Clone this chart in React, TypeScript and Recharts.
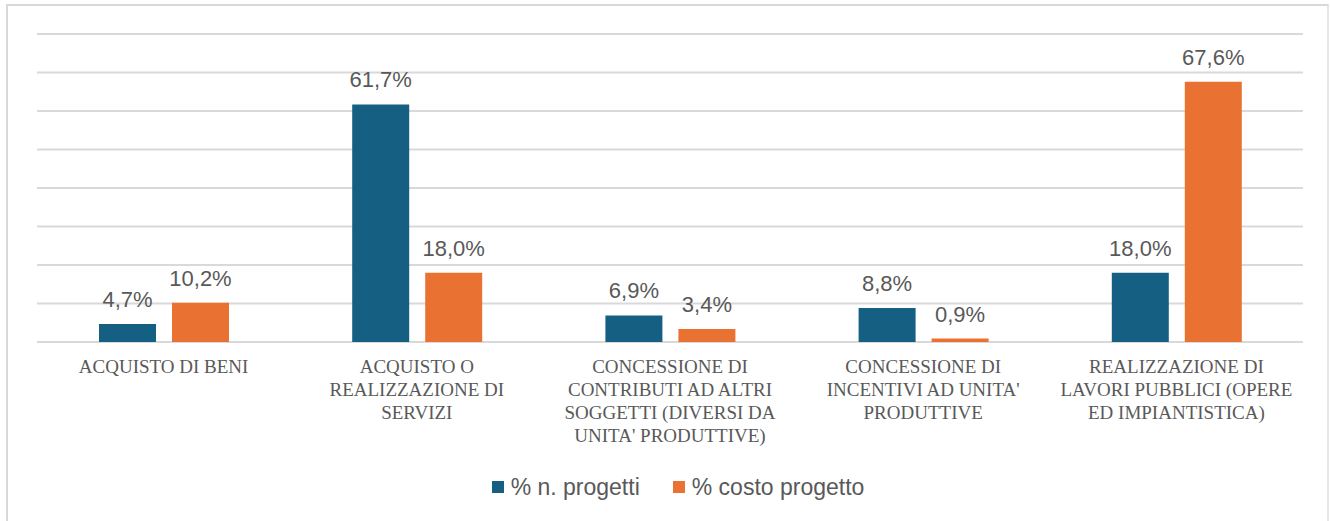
import React from 'react';
import { BarChart, Bar, XAxis, YAxis, CartesianGrid, LabelList, Legend } from 'recharts';

const categories: string[][] = [
  ['ACQUISTO DI BENI'],
  ['ACQUISTO O', 'REALIZZAZIONE DI', 'SERVIZI'],
  ['CONCESSIONE DI', 'CONTRIBUTI AD ALTRI', 'SOGGETTI (DIVERSI DA', "UNITA' PRODUTTIVE)"],
  ['CONCESSIONE DI', "INCENTIVI AD UNITA'", 'PRODUTTIVE'],
  ['REALIZZAZIONE DI', 'LAVORI PUBBLICI (OPERE', 'ED IMPIANTISTICA)'],
];
const nProgetti = [4.7, 61.7, 6.9, 8.8, 18.0];
const costoProgetto = [10.2, 18.0, 3.4, 0.9, 67.6];
const seriesNames = ['% n. progetti', '% costo progetto'];
const colors = ['#156082', '#E97132'];
const yTicks = [0, 10, 20, 30, 40, 50, 60, 70, 80];

const data = categories.map((c, i) => ({
  name: c.join('\n'),
  a: nProgetti[i],
  b: costoProgetto[i],
}));

const fmt = (v: any) => `${Number(v).toFixed(1).replace('.', ',')}%`;

const Tick = (props: any) => {
  const { x, y, payload } = props;
  const lines = String(payload.value).split('\n');
  return (
    <text
      x={x}
      y={y}
      textAnchor="middle"
      fill="#595959"
      fontFamily="'Liberation Serif', serif"
      fontSize={19}
    >
      {lines.map((l, i) => (
        <tspan key={i} x={x} y={y + 31 + i * 23}>
          {l}
        </tspan>
      ))}
    </text>
  );
};

const LegendContent = () => (
  <div
    style={{
      display: 'flex',
      justifyContent: 'center',
      alignItems: 'center',
      height: 32,
      paddingLeft: 16,
      fontFamily: "'Liberation Sans', sans-serif",
      fontSize: 23,
      color: '#595959',
    }}
  >
    {seriesNames.map((n, i) => (
      <div key={n} style={{ display: 'flex', alignItems: 'center', marginRight: i === 0 ? 33 : 0 }}>
        <div style={{ width: 12, height: 12, background: colors[i], marginRight: 7 }} />
        <span>{n}</span>
      </div>
    ))}
  </div>
);

export default function App() {
  return (
    <div style={{ position: 'absolute', left: 0, top: 0, width: 1330, height: 521, background: '#fff', overflow: 'hidden' }}>
      <div
        style={{
          position: 'absolute',
          left: 6,
          top: 4,
          width: 1323,
          height: 530,
          boxSizing: 'border-box',
          borderLeft: '2px solid #d9d9d9',
          borderTop: '2px solid #d9d9d9',
          borderRight: '2px solid #e6e6e6',
        }}
      />
      <div style={{ position: 'absolute', left: 0, top: 0 }}>
        <BarChart
          width={1330}
          height={521}
          data={data}
          margin={{ top: 34, right: 27, left: 37, bottom: 0 }}
          barSize={57}
          barGap={16}
        >
          <CartesianGrid vertical={false} stroke="#d9d9d9" strokeWidth={2} />
          <YAxis hide domain={[0, 80]} ticks={yTicks} />
          <XAxis
            dataKey="name"
            axisLine={false}
            tickLine={false}
            tickSize={0}
            tickMargin={0}
            height={129}
            interval={0}
            tick={<Tick />}
          />
          <Legend verticalAlign="bottom" height={50} content={<LegendContent />} />
          <Bar dataKey="a" name={seriesNames[0]} fill={colors[0]} isAnimationActive={false}>
            <LabelList
              dataKey="a"
              position="top"
              offset={17}
              formatter={fmt}
              fill="#595959"
              fontSize={22}
              fontFamily="'Liberation Sans', sans-serif"
            />
          </Bar>
          <Bar dataKey="b" name={seriesNames[1]} fill={colors[1]} isAnimationActive={false}>
            <LabelList
              dataKey="b"
              position="top"
              offset={17}
              formatter={fmt}
              fill="#595959"
              fontSize={22}
              fontFamily="'Liberation Sans', sans-serif"
            />
          </Bar>
        </BarChart>
      </div>
    </div>
  );
}
